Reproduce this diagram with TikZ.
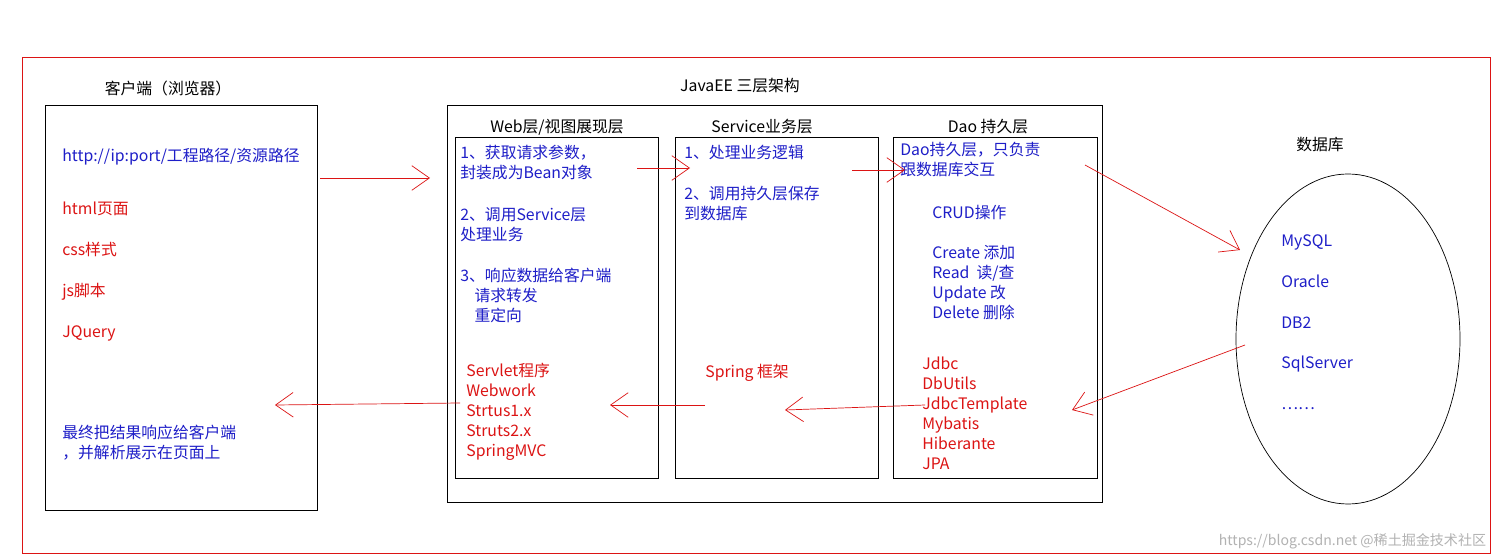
\documentclass[tikz,border=0pt]{standalone}
\usepackage{fontspec}
\setmainfont{Noto Sans CJK SC}
\usetikzlibrary{arrows.meta}
\definecolor{tb}{RGB}{30,30,200}
\definecolor{tr}{RGB}{220,20,20}
\begin{document}
\begin{tikzpicture}[x=0.02cm,y=-0.02cm,
  box/.style={draw=black,thin},
  tx/.style={anchor=north west,inner sep=0pt,font=\fontsize{9}{11.3}\selectfont,align=left},
  blue/.style={tx,text=tb},
  redt/.style={tx,text=tr},
  lab/.style={anchor=center,inner sep=0pt,font=\fontsize{9}{11}\selectfont},
  arr/.style={draw=tr,thin,-{Straight Barb[length=10pt,width=14pt]}}]
\useasboundingbox (0,0) rectangle (1498,560);
\fill[white] (0,0) rectangle (1498,560);
\node[draw=tr,thin,minimum width=1468*0.02cm,minimum height=496*0.02cm,anchor=north west,inner sep=0pt] (outer) at (22,57) {};
\node[box,minimum width=272*0.02cm,minimum height=405*0.02cm,anchor=north west,inner sep=0pt] (client) at (45,105) {};
\node[box,minimum width=655*0.02cm,minimum height=397*0.02cm,anchor=north west,inner sep=0pt] (jee) at (447,105) {};
\node[box,minimum width=203*0.02cm,minimum height=341*0.02cm,anchor=north west,inner sep=0pt] (web) at (455,137) {};
\node[box,minimum width=203*0.02cm,minimum height=341*0.02cm,anchor=north west,inner sep=0pt] (svc) at (675,137) {};
\node[box,minimum width=204*0.02cm,minimum height=341*0.02cm,anchor=north west,inner sep=0pt] (dao) at (893,137) {};
\draw[thin] (1348,339) ellipse [x radius=112, y radius=165];
\node[lab] (tclient) at (168,88) {客户端（浏览器）};
\node[lab] (tjee) at (740,86) {JavaEE 三层架构};
\node[lab] (tweb) at (557,127) {Web层/视图展现层};
\node[lab] (tsvc) at (762,127) {Service业务层};
\node[lab] (tdao) at (988,127) {Dao 持久层};
\node[lab] (tdb) at (1320,145) {数据库};
\node[blue] (url) at (62,148) {http://ip:port/工程路径/资源路径};
\node[redt,font=\fontsize{9}{23.3}\selectfont] (cl) at (62,202) {html页面\\css样式\\js脚本\\JQuery};
\node[blue] (fin) at (62,425) {最终把结果响应给客户端\\，并解析展示在页面上};
\node[blue] (w1) at (460,145) {1、获取请求参数，\\封装成为Bean对象};
\node[blue] (w2) at (460,207) {2、调用Service层\\处理业务};
\node[blue] (w3) at (460,268) {3、响应数据给客户端\\\ \ \ \ 请求转发\\\ \ \ \ 重定向};
\node[redt] (wr) at (466,363) {Servlet程序\\Webwork\\Strtus1.x\\Struts2.x\\SpringMVC};
\node[blue] (s1) at (684,145) {1、处理业务逻辑};
\node[blue] (s2) at (684,186) {2、调用持久层保存\\到数据库};
\node[redt] (sp) at (705,364) {Spring 框架};
\node[blue] (d1) at (900,142) {Dao持久层，只负责\\跟数据库交互};
\node[blue] (d2) at (932,205) {CRUD操作};
\node[blue] (d3) at (932,245) {Create 添加\\Read\ \ 读/查\\Update 改\\Delete 删除};
\node[redt] (dr) at (922,357) {Jdbc\\DbUtils\\JdbcTemplate\\Mybatis\\Hiberante\\JPA};
\node[blue,font=\fontsize{9}{23.3}\selectfont] (db) at (1281,234) {MySQL\\Oracle\\DB2\\SqlServer\\……};
\node[anchor=south east,inner sep=2pt,text=gray!60,font=\fontsize{8}{9}\selectfont] (wm) at (1490,553) {https://blog.csdn.net @稀土掘金技术社区};
\coordinate (a1s) at (320,178); \coordinate (a1e) at (430,178);
\coordinate (a2s) at (637,168); \coordinate (a2e) at (690,168);
\coordinate (a3s) at (852,170); \coordinate (a3e) at (905,170);
\coordinate (a4s) at (1085,165); \coordinate (a4e) at (1240,250);
\coordinate (a5s) at (1245,345); \coordinate (a5e) at (1072,410);
\coordinate (a6s) at (925,405); \coordinate (a6e) at (785,410);
\coordinate (a7s) at (705,405); \coordinate (a7e) at (610,405);
\coordinate (a8s) at (460,403); \coordinate (a8e) at (275,405);
\foreach \i in {1,...,8} \draw[arr] (a\i s) -- (a\i e);
\end{tikzpicture}
\end{document}
